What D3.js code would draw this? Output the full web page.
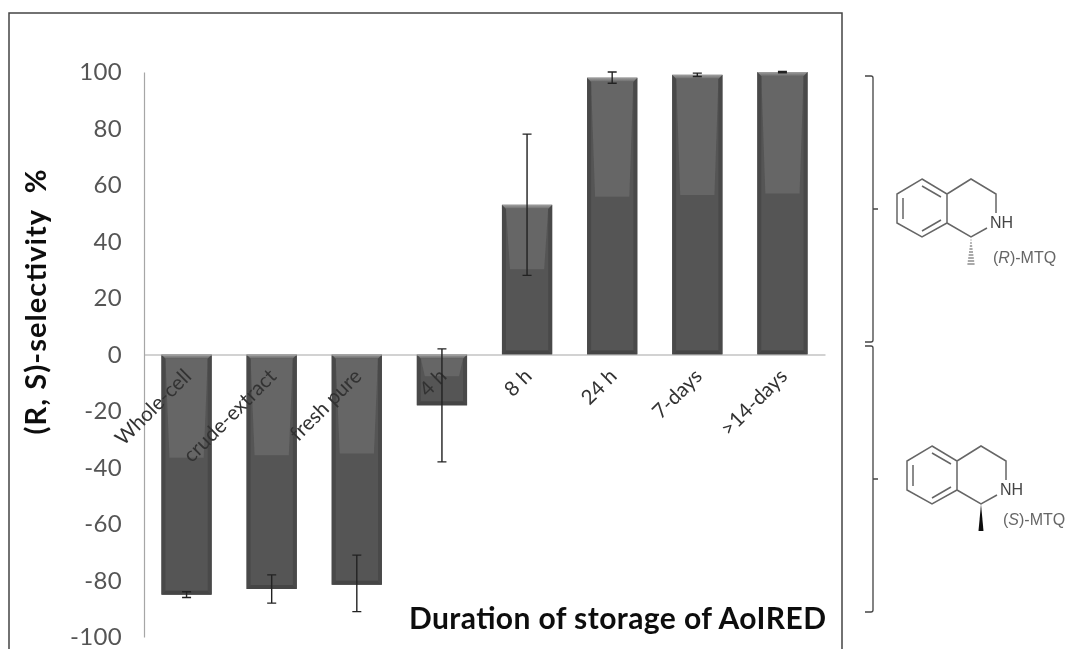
<!DOCTYPE html>
<html>
<head>
<meta charset="utf-8">
<script src="https://cdn.jsdelivr.net/npm/d3@7"></script>
<style>
  html, body { margin: 0; padding: 0; background: #fff; overflow: hidden; }
  svg { display: block; font-family: Lato, "Open Sans", sans-serif; }
</style>
</head>
<body>
<div id="chart"></div>
<script>
// --- data ---
const categories = ["Whole-cell", "crude-extract", "fresh pure", "4 h", "8 h", "24 h", "7-days", ">14-days"];
const selectivity = [-85, -83, -81.5, -18, 53, 98, 99, 100];
const errLow = [-86, -88, -91, -38, 28, 96, 98.4, 99.7];
const errHigh = [-84, -78, -71, 2, 78, 100, 99.6, 100.2];
const yTicks = [-100, -80, -60, -40, -20, 0, 20, 40, 60, 80, 100];

const width = 1068, height = 649;
const svgRoot = d3.select("#chart").append("svg").attr("width", width).attr("height", height);

const y = d3.scaleLinear().domain([-100, 100]).range([637, 72]);
const x = d3.scaleBand().domain(categories).range([144, 825]).paddingInner(0.41).paddingOuter(0.205);

// slight softening, the reference is a scaled-up raster
const defs = svgRoot.append("defs");
const soft = defs.append("filter").attr("id", "soft").attr("filterUnits", "userSpaceOnUse")
  .attr("x", 0).attr("y", 0).attr("width", width).attr("height", height);
soft.append("feGaussianBlur").attr("stdDeviation", 0.6);
const topGrad = defs.append("linearGradient").attr("id", "topBevel").attr("x1", 0).attr("x2", 0).attr("y1", 0).attr("y2", 1);
topGrad.append("stop").attr("offset", 0).attr("stop-color", "#a0a0a0");
topGrad.append("stop").attr("offset", 1).attr("stop-color", "#6a6a6a");

const svg = svgRoot.append("g").attr("filter", "url(#soft)");

// outer frame
svg.append("path").attr("d", "M9,649V13H842V649").attr("fill", "none").attr("stroke", "#444").attr("stroke-width", 1.5);

// y axis
const yAxis = svg.append("g").attr("transform", "translate(144,0)")
  .call(d3.axisLeft(y).tickValues(yTicks).tickSize(0).tickPadding(22).tickFormat(d => String(d)));
yAxis.select(".domain").attr("stroke", "#a6a6a6").attr("stroke-width", 1.2);
yAxis.selectAll("text").attr("font-size", 24).attr("fill", "#555").attr("font-family", "Lato").attr("letter-spacing", 0.3);

// bars with bevel
const bev = 4;
const bars = svg.append("g").selectAll("g").data(categories).join("g");
bars.each(function (c, i) {
  const g = d3.select(this);
  const x0 = x(c), w = x.bandwidth(), x1 = x0 + w;
  const top = Math.min(y(selectivity[i]), y(0)), bot = Math.max(y(selectivity[i]), y(0));
  const h = bot - top, b = Math.min(bev, h / 4);
  const lightEnd = top + h * 0.43;
  const poly = pts => pts.map(p => p.join(",")).join(" ");

  g.append("rect").attr("x", x0).attr("y", top).attr("width", w).attr("height", h).attr("fill", "#555555");
  // light upper part, narrows going down
  g.append("polygon").attr("fill", "#666666")
    .attr("points", poly([[x0 + b, top + b], [x1 - b, top + b], [x1 - b - 4, lightEnd], [x0 + b + 4, lightEnd]]));
  // side and bottom bevels
  g.append("polygon").attr("fill", "#4a4a4a").attr("points", poly([[x0, top], [x0 + b, top + b], [x0 + b, bot - b], [x0, bot]]));
  g.append("polygon").attr("fill", "#4a4a4a").attr("points", poly([[x1, top], [x1 - b, top + b], [x1 - b, bot - b], [x1, bot]]));
  g.append("polygon").attr("fill", "#454545").attr("points", poly([[x0, bot], [x0 + b, bot - b], [x1 - b, bot - b], [x1, bot]]));
  g.append("polygon").attr("fill", "url(#topBevel)").attr("points", poly([[x0, top], [x1, top], [x1 - b, top + b], [x0 + b, top + b]]));
});

// zero line and category labels
const xAxis = svg.append("g").attr("transform", `translate(0,${y(0)})`)
  .call(d3.axisBottom(x).tickSize(0).tickFormat(() => ""));
xAxis.select(".domain").attr("stroke", "#a6a6a6").attr("stroke-width", 1.2);
xAxis.selectAll(".tick text").remove();
xAxis.selectAll(".tick").append("text")
  .text(d => d)
  .attr("text-anchor", "end")
  .attr("transform", "translate(6,23) rotate(-45)")
  .attr("font-family", "Lato")
  .attr("font-size", 20.5)
  .attr("fill", "#333");

// error bars
svg.append("g").attr("stroke", "#222").attr("stroke-width", 1.4).attr("fill", "none")
  .selectAll("path").data(categories).join("path")
  .attr("d", (c, i) => {
    const cx = x(c) + x.bandwidth() / 2, lo = y(errLow[i]), hi = y(errHigh[i]);
    return `M${cx - 4.5},${hi}H${cx + 4.5}M${cx},${hi}V${lo}M${cx - 4.5},${lo}H${cx + 4.5}`;
  });

// titles
svg.append("text").attr("transform", "translate(46,302) rotate(-90)")
  .attr("text-anchor", "middle").attr("font-size", 29).attr("font-weight", 700).attr("fill", "#111")
  .attr("textLength", 265).attr("lengthAdjust", "spacing")
  .style("white-space", "pre").text("(R, S)-selectivity  %");
svg.append("text").attr("x", 409).attr("y", 628.5)
  .attr("font-size", 30).attr("font-weight", 700).attr("fill", "#111")
  .attr("textLength", 417).attr("lengthAdjust", "spacing")
  .text("Duration of storage of AoIRED");

// --- right side: brackets and structures ---
const side = svg.append("g");

function bracket(y0, y1) {
  const mid = (y0 + y1) / 2;
  side.append("path").attr("fill", "none").attr("stroke", "#444").attr("stroke-width", 1.3)
    .attr("d", `M865,${y0}H871Q873,${y0} 873,${y0 + 2}V${y1 - 2}Q873,${y1} 871,${y1}H865M873,${mid}H878`);
}
bracket(76, 342);
bracket(346, 612);

function molecule(dx, dy, hashed, name, tx, ty) {
  const g = side.append("g").attr("transform", `translate(${dx},${dy})`);
  const ring = [[922, 179], [947, 194], [947, 223], [922, 237], [897, 223], [897, 194]];
  g.append("path").attr("fill", "none").attr("stroke", "#666").attr("stroke-width", 1.5)
    .attr("d", "M" + ring.join("L") + "Z"
      + "M947,194L971,179L996,194V213M947,223L971,237L987,228"
      + "M922,186L941,197M941,220L922,231M903,198V219");
  g.append("text").attr("x", 990).attr("y", 228).attr("font-family", "Liberation Sans").attr("font-size", 16).attr("fill", "#444").text("NH");
  if (hashed) {
    d3.range(0, 9).forEach(k => {
      const yy = 240 + k * 3, hw = 0.4 + k * 0.4;
      g.append("line").attr("x1", 971 - hw).attr("x2", 971 + hw).attr("y1", yy).attr("y2", yy).attr("stroke", "#555").attr("stroke-width", 1);
    });
  } else {
    g.append("polygon").attr("points", "971,237 968.5,264 973.5,264").attr("fill", "#111");
  }
  const t = side.append("text").attr("x", tx).attr("y", ty).attr("font-family", "Liberation Sans").attr("font-size", 16).attr("fill", "#666");
  t.append("tspan").text("(");
  t.append("tspan").attr("font-style", "italic").text(name);
  t.append("tspan").text(")-MTQ");
}
molecule(0, 0, true, "R", 993, 263);
molecule(10, 267, false, "S", 1003, 525);
</script>
</body>
</html>
